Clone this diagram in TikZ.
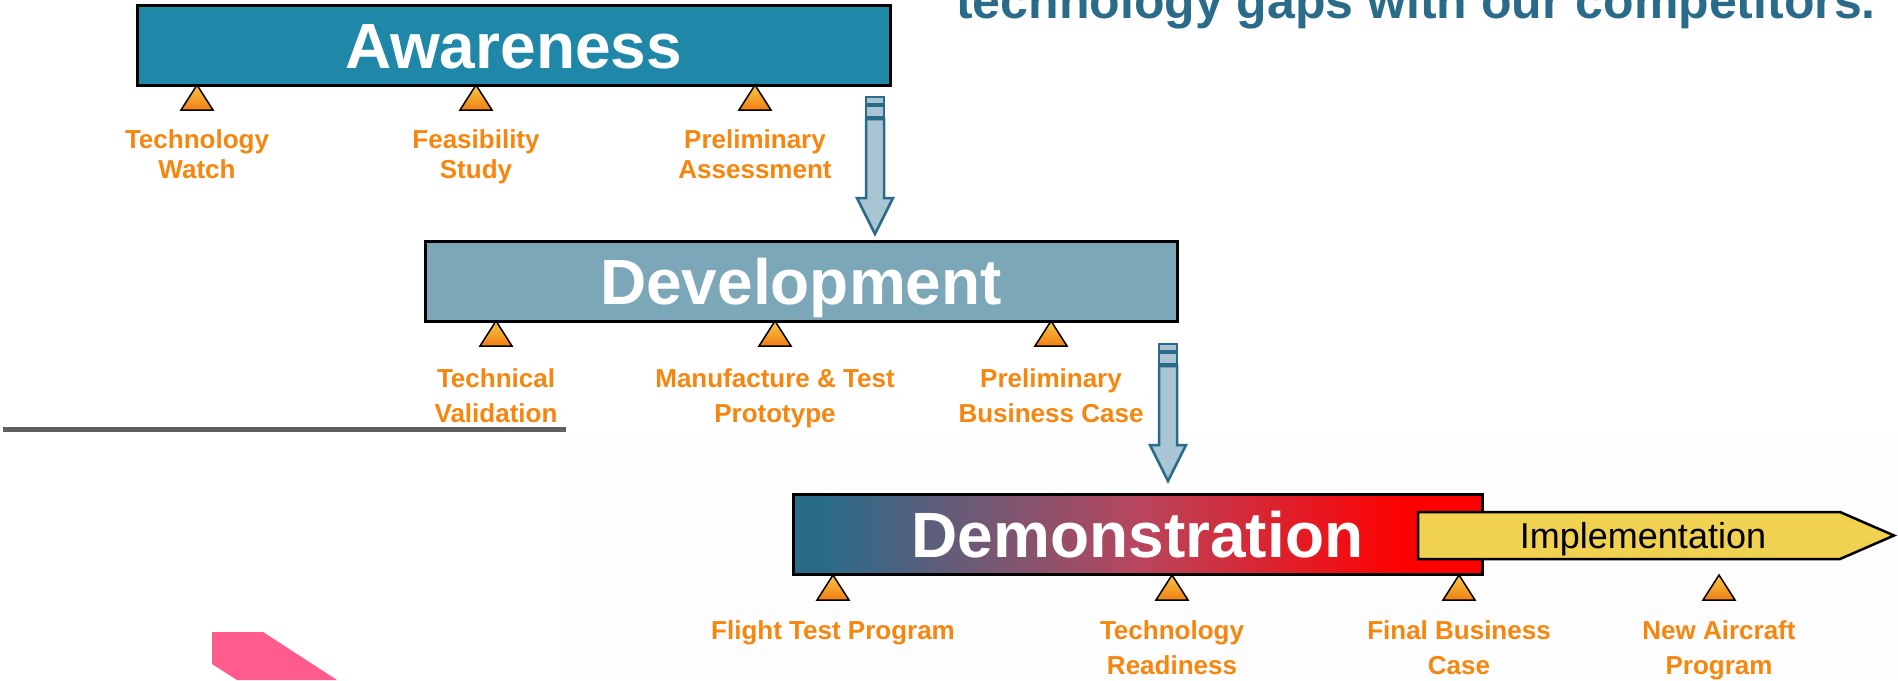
\documentclass[tikz,border=0pt]{standalone}
\usepackage{fontspec}
\setmainfont{Liberation Sans}
\definecolor{awfill}{HTML}{1F87A8}
\definecolor{devfill}{HTML}{7BA7B8}
\definecolor{darkteal}{HTML}{2B6B8A}
\definecolor{arrfill}{HTML}{A9C4D2}
\definecolor{lblor}{HTML}{F7860F}
\definecolor{implfill}{HTML}{F0D250}
\definecolor{pinkc}{HTML}{FF5C8D}
\definecolor{lineg}{HTML}{606060}
\definecolor{trtop}{HTML}{F8C844}
\definecolor{trbot}{HTML}{F07E16}
\definecolor{demomid}{HTML}{B8465E}
\definecolor{bgright}{HTML}{FDFDFD}
\pgfdeclarehorizontalshading{demoshade}{100bp}{color(0bp)=(darkteal); color(27.5bp)=(darkteal); color(50bp)=(demomid); color(69.5bp)=(red); color(100bp)=(red)}
\tikzset{
  stage/.style={draw=black, line width=3pt, minimum height=80pt, inner sep=0pt,
    text=white, font=\fontsize{64}{64}\selectfont\bfseries, text height=46pt, text depth=0pt},
  tri/.style={draw=black, line width=1.5pt, top color=trtop, bottom color=trbot, line join=miter},
  lbl/.style={text=lblor, font=\fontsize{26}{35}\selectfont\bfseries, align=center, anchor=north, inner sep=0pt},
  lbltight/.style={lbl, font=\fontsize{26}{30}\selectfont\bfseries},
  blockarrow/.style={draw=darkteal, fill=arrfill, line width=2.5pt, line join=miter},
}
\newcommand\marktri[2]{\path[tri] (#1,#2) -- (#1+16,#2+25) -- (#1-16,#2+25) -- cycle;}
\newcommand\downblock[2]{%
  \path[blockarrow] (#1-9,#2) rectangle (#1+9,#2+7);
  \path[blockarrow] (#1-9,#2+9) rectangle (#1+9,#2+20);
  \path[blockarrow] (#1-9,#2+22) -- (#1+9,#2+22) -- (#1+9,#2+101) -- (#1+18,#2+101)
    -- (#1,#2+137) -- (#1-18,#2+101) -- (#1-9,#2+101) -- cycle;}
\begin{document}
\begin{tikzpicture}[x=1pt,y=-1pt]
\useasboundingbox (0,0) rectangle (1898,680);
\fill[white] (0,0) rectangle (1898,680);
\fill[bgright] (566,432) rectangle (1898,680);

% title fragment
\node[anchor=base west, inner sep=0pt, text=darkteal, font=\fontsize{50}{50}\selectfont\bfseries]
  (title) at (956,18) {technology gaps with our competitors.};

% gray rule
\coordinate (ruleA) at (3,429.5);
\coordinate (ruleB) at (566,429.5);
\draw[lineg, line width=5pt] (ruleA) -- (ruleB);

% pink shape
\fill[pinkc] (212,632) -- (263,632) -- (337,680) -- (237,680) -- (212,664) -- cycle;

% stages
\node[stage, fill=awfill, minimum width=753pt] (aw) at (513.5,45) {Awareness};
\node[stage, fill=devfill, minimum width=752pt] (dev) at (801,281) {Development};
\node[stage, shading=demoshade, minimum width=689pt] (demo) at (1137.5,534) {Demonstration};

% implementation
\path[draw=black, fill=implfill, line width=2.5pt, line join=miter]
  (1418,512) -- (1840,512) -- (1894,535.5) -- (1840,559) -- (1418,559) -- cycle;
\node[inner sep=0pt, text height=26pt, text depth=0pt, font=\fontsize{36}{36}\selectfont]
  (impl) at (1643,535.5) {Implementation};

% down arrows
\downblock{875}{97}
\downblock{1168}{344}

% triangles
\marktri{197}{85}\marktri{476}{85}\marktri{755}{85}
\marktri{496}{321}\marktri{775}{321}\marktri{1051}{321}
\marktri{833}{575}\marktri{1172}{575}\marktri{1459}{575}\marktri{1719}{575}

% labels
\node[lbltight] (l1) at (197,128) {\rule{0pt}{20pt}Technology\\Watch};
\node[lbltight] (l2) at (476,128) {\rule{0pt}{20pt}Feasibility\\Study};
\node[lbltight] (l3) at (755,128) {\rule{0pt}{20pt}Preliminary\\Assessment};
\node[lbl] (l4) at (496,367) {\rule{0pt}{20pt}Technical\\Validation};
\node[lbl] (l5) at (775,367) {\rule{0pt}{20pt}Manufacture \& Test\\Prototype};
\node[lbl] (l6) at (1051,367) {\rule{0pt}{20pt}Preliminary\\Business Case};
\node[lbl] (l7) at (833,619) {\rule{0pt}{20pt}Flight Test Program};
\node[lbl] (l8) at (1172,619) {\rule{0pt}{20pt}Technology\\Readiness};
\node[lbl] (l9) at (1459,619) {\rule{0pt}{20pt}Final Business\\Case};
\node[lbl] (l10) at (1719,619) {\rule{0pt}{20pt}New Aircraft\\Program};
\end{tikzpicture}
\end{document}
